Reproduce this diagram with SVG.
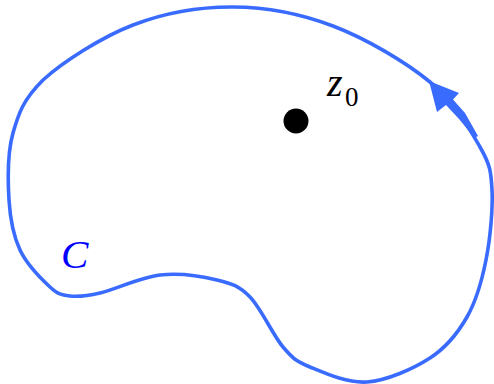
<svg xmlns="http://www.w3.org/2000/svg" width="494" height="384" viewBox="0 0 494 384">
<style>
.curve{fill:none;stroke:#3a6bff;stroke-width:3.6;stroke-linejoin:round}
.arrow{fill:#3a6bff;stroke:none}
.lbl{font-family:"Liberation Serif","Times New Roman",serif;font-style:italic}
</style>
<rect width="494" height="384" fill="#ffffff"/>
<g id="connectors">
<path id="contour" class="curve" d="M43,80 C63,62 101.3,37.2 133,25 C164.7,12.8 199.7,6.8 233,7 C266.3,7.2 300.2,13.5 333,26 C365.8,38.5 405.5,61.8 430,82 C454.5,102.2 469.7,129 480,147 C490.3,165 491,171.2 492,190 C493,208.8 490.2,238.8 486,260 C481.8,281.2 476.3,300.7 467,317 C457.7,333.3 446.7,347.2 430,358 C413.3,368.8 387,380.5 367,382 C347,383.5 324,372.8 310,367 C296,361.2 293,358.7 283,347 C273,335.3 261,308.2 250,297 C239,285.8 232,283.7 217,280 C202,276.3 179.5,272.8 160,275 C140.5,277.2 115,289.5 100,293 C85,296.5 78.3,297 70,296 C61.7,295 58.3,294.7 50,287 C41.7,279.3 26.8,264.5 20,250 C13.2,235.5 10.2,219.5 9,200 C7.8,180.5 7.3,153 13,133 C18.7,113 23,100 43,80 Z"/>
<polygon id="arrowhead" class="arrow" points="429,81 459,93 453,99.5 465,113 478,136 474.5,138 459,119 446,105 437,112"/>
</g>
<g id="z0">
<circle cx="296" cy="121" r="12.5" fill="#000000"/>
<text class="lbl" x="327" y="96" font-size="40" fill="#000000">z</text>
<text x="345" y="106" font-size="27" font-family="Liberation Serif,'Times New Roman',serif" fill="#000000">0</text>
</g>
<g id="C">
<text class="lbl" x="61" y="268" font-size="41" fill="#0000ff">C</text>
</g>
</svg>
